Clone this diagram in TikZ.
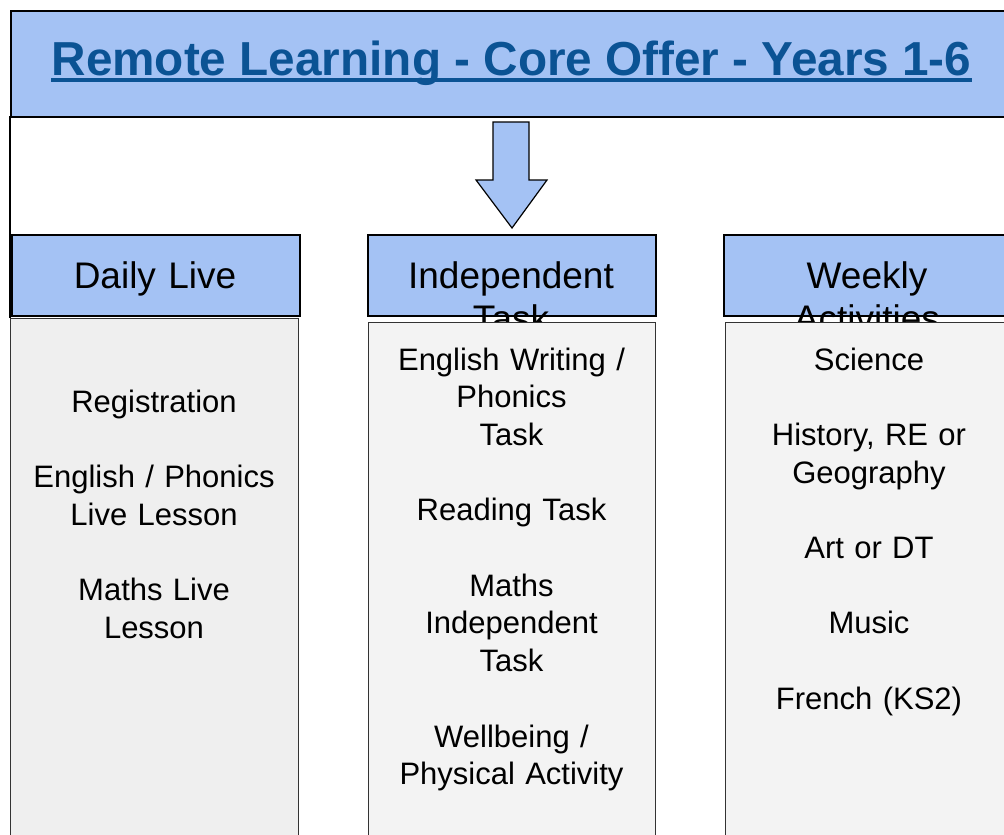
\documentclass[tikz,border=0pt]{standalone}
\usepackage{fontspec}
\setmainfont{Liberation Sans}
\definecolor{hdrblue}{HTML}{A4C2F4}
\definecolor{titleblue}{HTML}{0B5394}
\definecolor{paneldaily}{HTML}{EFEFEF}
\definecolor{panelgrey}{HTML}{F3F3F3}
\begin{document}
\begin{tikzpicture}[x=1pt,y=-1pt,
  titlebox/.style={draw=black, line width=2pt, fill=hdrblue, inner sep=0pt, anchor=north west},
  hdrbox/.style={draw=black, line width=1.5pt, fill=hdrblue, inner sep=0pt, anchor=north west},
  panelbox/.style={draw=black!80, line width=1.3pt, inner sep=0pt, anchor=north west},
  hdrtext/.style={font=\fontsize{37}{43}\selectfont, align=center, text width=280pt, anchor=base, inner sep=0pt},
  bodytext/.style={font=\fontsize{31}{37.7}\selectfont, align=center, text width=280pt, anchor=base, inner sep=0pt},
]
\useasboundingbox (0,0) rectangle (1004,835);
\clip (0,0) rectangle (1004,835);
\fill[white] (0,0) rectangle (1004,835);

% title
\node[titlebox, minimum width=1060pt, minimum height=106pt] (title) at (10,10) {};
\node[font=\fontsize{47.7}{55}\selectfont\bfseries, text=titleblue, anchor=base, inner sep=0pt]
  (titletext) at (511.5,75) {Remote Learning - Core Offer - Years 1-6};
\draw[titleblue, line width=3.5pt] ([yshift=-5pt]titletext.base west) -- ([yshift=-5pt]titletext.base east);

% block arrow
\filldraw[fill=hdrblue, draw=black, line width=1.2pt, line join=miter]
  (493,122) -- (529,122) -- (529,180) -- (547,180) -- (512,228) -- (476,180) -- (493,180) -- cycle;

% left frame line
\coordinate (frametop) at (10,116);
\coordinate (framebot) at (10,318);
\draw[black, line width=2pt] (frametop) -- (framebot);

% headers
\node[hdrbox, minimum width=288pt, minimum height=81pt] (hdaily) at (11,234) {};
\node[hdrbox, minimum width=288pt, minimum height=81pt] (hindep) at (367,234) {};
\node[hdrbox, minimum width=288pt, minimum height=81pt] (hweekly) at (723,234) {};
\node[hdrtext] (hdailytext) at (155,288) {Daily Live};
\node[hdrtext] (hindeptext) at (511,288) {Independent\\Task};
\node[hdrtext] (hweeklytext) at (867,288) {Weekly\\Activities};

% panels
\node[panelbox, fill=paneldaily, minimum width=288pt, minimum height=540pt] (pdaily) at (10,318) {};
\node[panelbox, fill=panelgrey, minimum width=287pt, minimum height=540pt] (pindep) at (368,322) {};
\node[panelbox, fill=panelgrey, minimum width=288pt, minimum height=540pt] (pweekly) at (725,322) {};

% panel texts
\node[bodytext] (tdaily) at (154,412)
  {Registration\\[37.7pt]English / Phonics\\Live Lesson\\[37.7pt]Maths Live\\Lesson};
\node[bodytext] (tindep) at (511.5,370)
  {English Writing /\\Phonics\\Task\\[37.7pt]Reading Task\\[37.7pt]Maths\\Independent\\Task\\[37.7pt]Wellbeing /\\Physical Activity};
\node[bodytext] (tweekly) at (869,370)
  {Science\\[37.7pt]History, RE or\\Geography\\[37.7pt]Art or DT\\[37.7pt]Music\\[37.7pt]French (KS2)};
\end{tikzpicture}
\end{document}
